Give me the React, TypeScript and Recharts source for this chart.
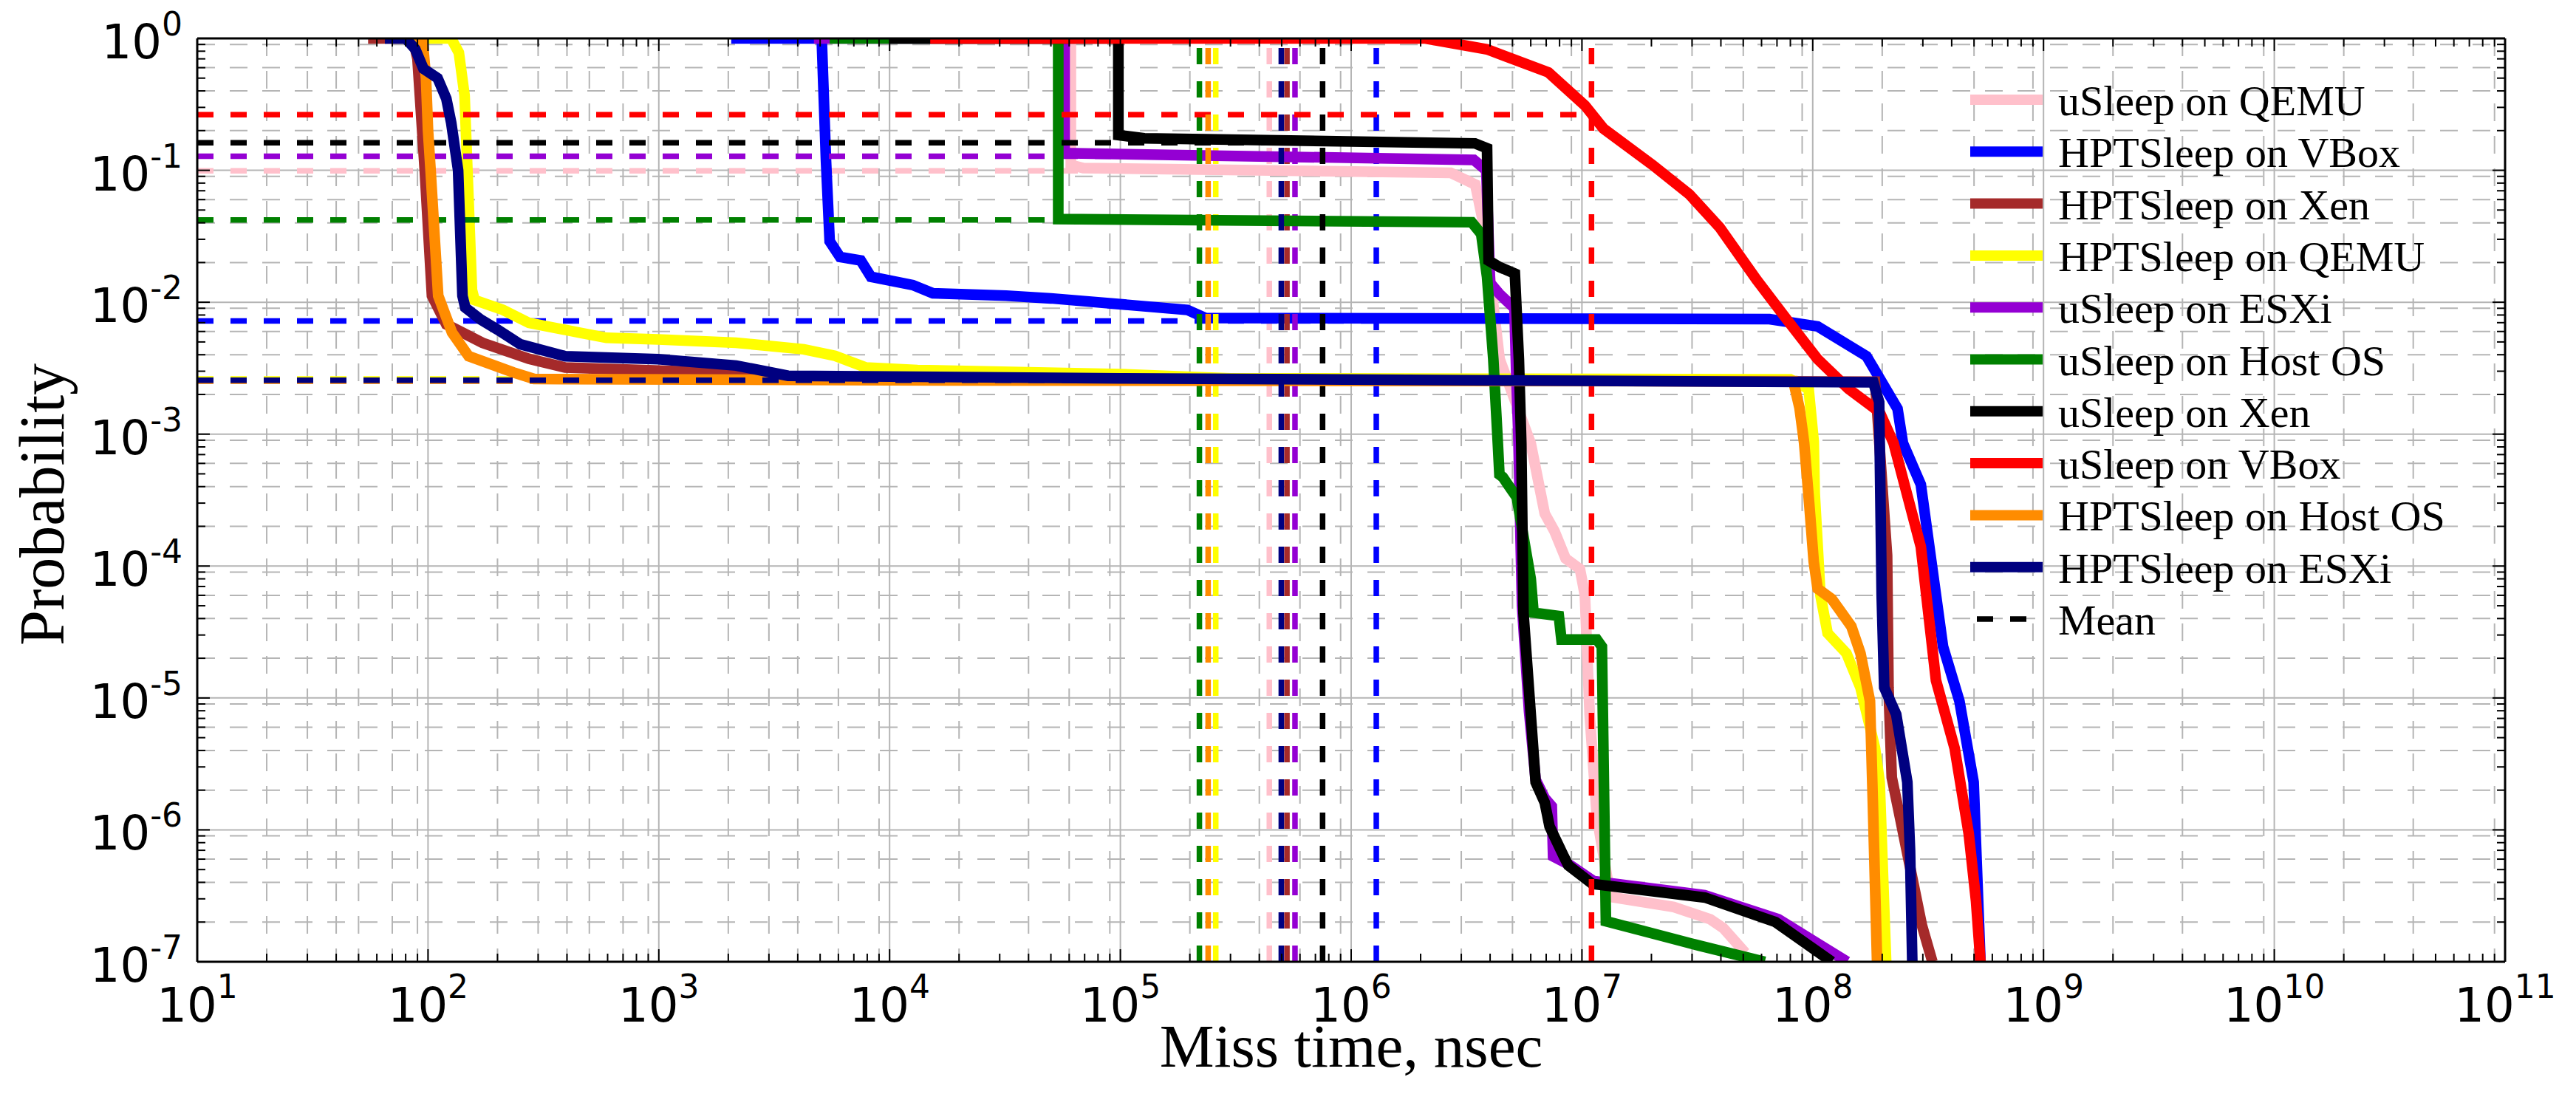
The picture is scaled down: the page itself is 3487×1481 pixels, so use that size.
import React from "react";
import { CartesianGrid, Line, LineChart, XAxis, YAxis } from "recharts";

type Pt = { x: number; y: number };

// Survival curves: miss time (ns) vs probability
const uSleepQemu: Pt[] = [
  { x: 2.0e4, y: 1 }, { x: 6.1e4, y: 1 }, { x: 6.1e4, y: 0.11 }, { x: 6.9e4, y: 0.104 },
  { x: 2.7e6, y: 0.0957 }, { x: 3.45e6, y: 0.078 }, { x: 3.77e6, y: 0.037 }, { x: 4.4e6, y: 3.7e-3 },
  { x: 6.0e6, y: 8.5e-4 }, { x: 6.9e6, y: 2.5e-4 }, { x: 7.6e6, y: 1.84e-4 }, { x: 8.5e6, y: 1.14e-4 },
  { x: 9.8e6, y: 9.5e-5 }, { x: 1.03e7, y: 6.0e-5 }, { x: 1.08e7, y: 7.5e-6 }, { x: 1.16e7, y: 1.27e-6 },
  { x: 1.33e7, y: 3.1e-7 }, { x: 2.5e7, y: 2.6e-7 }, { x: 3.6e7, y: 2.1e-7 }, { x: 4.1e7, y: 1.8e-7 },
  { x: 5.1e7, y: 1.17e-7 },
];
const hptVbox: Pt[] = [
  { x: 2.06e3, y: 1 }, { x: 5.08e3, y: 1 }, { x: 5.3e3, y: 0.12 }, { x: 5.5e3, y: 0.029 },
  { x: 6.1e3, y: 0.022 }, { x: 7.5e3, y: 0.0207 }, { x: 8.3e3, y: 0.0156 }, { x: 1.26e4, y: 0.0135 },
  { x: 1.54e4, y: 0.0117 }, { x: 3.2e4, y: 0.0112 }, { x: 5.0e4, y: 0.0107 }, { x: 1.95e5, y: 8.75e-3 },
  { x: 2.33e5, y: 7.6e-3 }, { x: 6.5e7, y: 7.45e-3 }, { x: 1.05e8, y: 6.56e-3 }, { x: 1.71e8, y: 3.9e-3 },
  { x: 2.33e8, y: 1.56e-3 }, { x: 2.46e8, y: 8.55e-4 }, { x: 2.94e8, y: 4.15e-4 }, { x: 3.67e8, y: 2.45e-5 },
  { x: 4.32e8, y: 9.5e-6 }, { x: 4.98e8, y: 2.3e-6 }, { x: 5.33e8, y: 1e-7 },
];
const hptXen: Pt[] = [
  { x: 55, y: 1 }, { x: 86, y: 1 }, { x: 90, y: 0.7 }, { x: 96.8, y: 0.1 }, { x: 104, y: 0.0112 },
  { x: 120, y: 6.8e-3 }, { x: 172, y: 4.93e-3 }, { x: 274, y: 3.72e-3 }, { x: 393, y: 3.2e-3 },
  { x: 1670, y: 2.94e-3 }, { x: 5000, y: 2.62e-3 }, { x: 1.86e8, y: 2.5e-3 }, { x: 1.88e8, y: 2e-3 },
  { x: 2.1e8, y: 1.2e-4 }, { x: 2.13e8, y: 1.2e-5 }, { x: 2.2e8, y: 2.5e-6 }, { x: 2.35e8, y: 1.43e-6 },
  { x: 2.97e8, y: 1.9e-7 }, { x: 3.3e8, y: 1e-7 },
];
const hptQemu: Pt[] = [
  { x: 90, y: 1 }, { x: 126, y: 1 }, { x: 136, y: 0.78 }, { x: 144, y: 0.37 }, { x: 155, y: 0.0124 },
  { x: 159, y: 0.0104 }, { x: 211, y: 8.75e-3 }, { x: 274, y: 6.97e-3 }, { x: 458, y: 5.86e-3 },
  { x: 593, y: 5.37e-3 }, { x: 993, y: 5.22e-3 }, { x: 2160, y: 4.93e-3 }, { x: 4250, y: 4.4e-3 },
  { x: 5800, y: 3.92e-3 }, { x: 7900, y: 3.2e-3 }, { x: 1.32e4, y: 3.06e-3 }, { x: 1e5, y: 2.85e-3 },
  { x: 3e5, y: 2.65e-3 }, { x: 8e7, y: 2.6e-3 }, { x: 9.6e7, y: 2.2e-3 }, { x: 1.01e8, y: 8.8e-4 },
  { x: 1.02e8, y: 3.55e-4 }, { x: 1.08e8, y: 6.0e-5 }, { x: 1.16e8, y: 3.1e-5 }, { x: 1.4e8, y: 2.18e-5 },
  { x: 1.61e8, y: 1.2e-5 }, { x: 1.86e8, y: 4.2e-6 }, { x: 1.95e8, y: 2.3e-6 }, { x: 2.08e8, y: 1e-7 },
];
const uSleepEsxi: Pt[] = [
  { x: 4.7e3, y: 1 }, { x: 5.73e4, y: 1 }, { x: 5.73e4, y: 0.135 }, { x: 3.4e6, y: 0.12 },
  { x: 3.85e6, y: 0.1 }, { x: 4.0e6, y: 0.014 }, { x: 4.4e6, y: 0.0115 }, { x: 5.1e6, y: 9e-3 },
  { x: 5.2e6, y: 2.6e-3 }, { x: 5.3e6, y: 1e-3 }, { x: 5.5e6, y: 5e-5 }, { x: 5.9e6, y: 7.9e-6 },
  { x: 6.3e6, y: 2.4e-6 }, { x: 6.9e6, y: 1.74e-6 }, { x: 7.4e6, y: 1.51e-6 }, { x: 7.5e6, y: 6.3e-7 },
  { x: 8.9e6, y: 5.4e-7 }, { x: 1.12e7, y: 4.1e-7 }, { x: 3.4e7, y: 3.2e-7 }, { x: 7.1e7, y: 2.1e-7 },
  { x: 1.41e8, y: 1e-7 },
];
const uSleepHost: Pt[] = [
  { x: 5.5e3, y: 1 }, { x: 5.38e4, y: 1 }, { x: 5.38e4, y: 0.0427 }, { x: 3.33e6, y: 0.0404 },
  { x: 3.66e6, y: 0.0329 }, { x: 3.88e6, y: 0.0156 }, { x: 4.13e6, y: 3.7e-3 }, { x: 4.32e6, y: 8.55e-4 },
  { x: 4.39e6, y: 4.93e-4 }, { x: 4.54e6, y: 4.72e-4 }, { x: 5.22e6, y: 3.31e-4 }, { x: 6.0e6, y: 8.0e-5 },
  { x: 6.17e6, y: 4.43e-5 }, { x: 7.94e6, y: 4.18e-5 }, { x: 8.15e6, y: 2.77e-5 }, { x: 1.16e7, y: 2.77e-5 },
  { x: 1.22e7, y: 2.45e-5 }, { x: 1.27e7, y: 2.03e-7 }, { x: 3.2e7, y: 1.33e-7 }, { x: 6.2e7, y: 1e-7 },
];
const uSleepXen: Pt[] = [
  { x: 1e4, y: 1 }, { x: 9.8e4, y: 1 }, { x: 9.8e4, y: 0.185 }, { x: 1.27e5, y: 0.175 },
  { x: 3.44e6, y: 0.16 }, { x: 3.88e6, y: 0.147 }, { x: 3.94e6, y: 0.0207 }, { x: 4.39e6, y: 0.0185 },
  { x: 5.12e6, y: 0.0165 }, { x: 5.33e6, y: 3.7e-3 }, { x: 5.46e6, y: 8.5e-4 }, { x: 5.58e6, y: 4.4e-5 },
  { x: 6.0e6, y: 7.5e-6 }, { x: 6.3e6, y: 2.3e-6 }, { x: 6.9e6, y: 1.61e-6 }, { x: 7.24e6, y: 1.06e-6 },
  { x: 8.36e6, y: 6.25e-7 }, { x: 8.73e6, y: 5.38e-7 }, { x: 1.11e7, y: 3.89e-7 }, { x: 3.41e7, y: 3.07e-7 },
  { x: 6.9e7, y: 2.0e-7 }, { x: 1.21e8, y: 1e-7 },
];
const uSleepVbox: Pt[] = [
  { x: 1.5e4, y: 1 }, { x: 2.1e6, y: 1 }, { x: 3.88e6, y: 0.826 }, { x: 7.16e6, y: 0.552 },
  { x: 1.03e7, y: 0.31 }, { x: 1.24e7, y: 0.207 }, { x: 2.02e7, y: 0.11 }, { x: 2.92e7, y: 0.0658 },
  { x: 3.95e7, y: 0.0369 }, { x: 5.71e7, y: 0.0148 }, { x: 7.74e7, y: 7.36e-3 }, { x: 1.05e8, y: 3.7e-3 },
  { x: 1.43e8, y: 2.2e-3 }, { x: 1.95e8, y: 1.47e-3 }, { x: 2.24e8, y: 8.55e-4 }, { x: 2.94e8, y: 1.4e-4 },
  { x: 3.42e8, y: 1.36e-5 }, { x: 4.12e8, y: 4.16e-6 }, { x: 4.74e8, y: 9.4e-7 }, { x: 5.1e8, y: 2.9e-7 },
  { x: 5.33e8, y: 1e-7 },
];
const hptHost: Pt[] = [
  { x: 85, y: 1 }, { x: 94.6, y: 1 }, { x: 98, y: 0.5 }, { x: 100, y: 0.2 }, { x: 102.6, y: 0.1 },
  { x: 110.7, y: 0.0112 }, { x: 127, y: 5.9e-3 }, { x: 150, y: 3.9e-3 }, { x: 234, y: 2.94e-3 },
  { x: 288, y: 2.62e-3 }, { x: 1e4, y: 2.56e-3 }, { x: 8.24e7, y: 2.52e-3 }, { x: 8.77e7, y: 1.57e-3 },
  { x: 9.18e7, y: 8.55e-4 }, { x: 9.66e7, y: 2.94e-4 }, { x: 1.01e8, y: 1.08e-4 }, { x: 1.05e8, y: 6.74e-5 },
  { x: 1.21e8, y: 5.62e-5 }, { x: 1.47e8, y: 3.49e-5 }, { x: 1.61e8, y: 2.18e-5 }, { x: 1.77e8, y: 9.5e-6 },
  { x: 1.82e8, y: 1.71e-6 }, { x: 1.9e8, y: 1e-7 },
];
const hptEsxi: Pt[] = [
  { x: 65, y: 1 }, { x: 80, y: 1 }, { x: 88, y: 0.83 }, { x: 95.5, y: 0.59 }, { x: 110, y: 0.5 },
  { x: 120, y: 0.35 }, { x: 126, y: 0.23 }, { x: 135, y: 0.1 }, { x: 141, y: 0.0112 }, { x: 145, y: 9.1e-3 },
  { x: 169, y: 7.4e-3 }, { x: 200, y: 6.2e-3 }, { x: 251, y: 4.8e-3 }, { x: 393, y: 3.9e-3 },
  { x: 993, y: 3.7e-3 }, { x: 2163, y: 3.31e-3 }, { x: 3630, y: 2.77e-3 }, { x: 1e5, y: 2.65e-3 },
  { x: 1.83e8, y: 2.47e-3 }, { x: 1.94e8, y: 1.75e-3 }, { x: 1.95e8, y: 8.5e-4 }, { x: 1.99e8, y: 6.0e-5 },
  { x: 2.04e8, y: 1.2e-5 }, { x: 2.3e8, y: 7.5e-6 }, { x: 2.57e8, y: 2.3e-6 }, { x: 2.64e8, y: 7.0e-7 },
  { x: 2.7e8, y: 1e-7 },
];

const seriesNames = [
  "uSleep on QEMU", "HPTSleep on VBox", "HPTSleep on Xen", "HPTSleep on QEMU", "uSleep on ESXi",
  "uSleep on Host OS", "uSleep on Xen", "uSleep on VBox", "HPTSleep on Host OS", "HPTSleep on ESXi",
];
const seriesColors = [
  "#ffc0cb", "#0000ff", "#a52a2a", "#ffff00", "#9400d3",
  "#008000", "#000000", "#ff0000", "#ff8c00", "#000080",
];
const seriesData = [
  uSleepQemu, hptVbox, hptXen, hptQemu, uSleepEsxi,
  uSleepHost, uSleepXen, uSleepVbox, hptHost, hptEsxi,
];
// mean miss time and the probability at that mean, per series
const meanTimes = [4.42e5, 1.285e6, 5.27e5, 2.59e5, 5.71e5, 2.2e5, 7.52e5, 1.1e7, 2.4e5, 4.98e5];
const meanProbs = [0.099, 7.2e-3, 2.54e-3, 2.62e-3, 0.128, 0.042, 0.162, 0.264, 2.52e-3, 2.56e-3];

const xExponents = [1, 2, 3, 4, 5, 6, 7, 8, 9, 10, 11];
const yExponents = [-7, -6, -5, -4, -3, -2, -1, 0];
const minorSteps = [2, 3, 4, 5, 6, 7, 8, 9];

const majorX = xExponents.map((e) => 10 ** e);
const minorX = xExponents.slice(0, -1).flatMap((e) => minorSteps.map((k) => k * 10 ** e));
const majorY = yExponents.map((e) => 10 ** e);
const minorY = yExponents.slice(0, -1).flatMap((e) => minorSteps.map((k) => k * 10 ** e));
const allX = [...majorX, ...minorX].sort((a, b) => a - b);
const allY = [...majorY, ...minorY].sort((a, b) => a - b);

const X_DOMAIN: [number, number] = [10, 1e11];
const Y_DOMAIN: [number, number] = [1e-7, 1];

const W = 3471;
const H = 1465;
const SANS = "DejaVu Sans";
const SERIF = "Liberation Serif";

function isMajor(v: number) {
  const e = Math.round(Math.log10(v));
  return Math.abs(v - 10 ** e) < v * 1e-6;
}

function BottomTick({ x, y, payload }: any) {
  const v = payload.value;
  const major = isMajor(v);
  return (
    <g>
      <line x1={x} x2={x} y1={y} y2={y - (major ? 17 : 11)} stroke="#000" strokeWidth={2} />
      {major ? (
        <text x={x} y={y + 81} textAnchor="middle" fontFamily={SANS} fontSize={64} fill="#000">
          10
          <tspan dy={-32} fontSize={44}>{Math.round(Math.log10(v))}</tspan>
        </text>
      ) : null}
    </g>
  );
}

function LeftTick({ x, y, payload }: any) {
  const v = payload.value;
  const major = isMajor(v);
  return (
    <g>
      <line x1={x} x2={x + (major ? 17 : 11)} y1={y} y2={y} stroke="#000" strokeWidth={2} />
      {major ? (
        <text x={x - 20} y={y + 27} textAnchor="end" fontFamily={SANS} fontSize={64} fill="#000">
          10
          <tspan dy={-31} fontSize={44}>{Math.round(Math.log10(v))}</tspan>
        </text>
      ) : null}
    </g>
  );
}

function TopTick({ x, y, payload }: any) {
  const len = isMajor(payload.value) ? 17 : 11;
  return <line x1={x} x2={x} y1={y} y2={y + len} stroke="#000" strokeWidth={2} />;
}

function RightTick({ x, y, payload }: any) {
  const len = isMajor(payload.value) ? 17 : 11;
  return <line x1={x} x2={x - len} y1={y} y2={y} stroke="#000" strokeWidth={2} />;
}

const frame = { stroke: "#000", strokeWidth: 3 };
const CURVE_W = 14.5;
const MEAN_W = 7.5;

export default function App() {
  return (
    <div style={{ position: "relative", width: W, height: H }}>
      <LineChart width={W} height={H} margin={{ top: 24, right: 68, bottom: 0, left: 0 }}>
        <XAxis
          dataKey="x" type="number" scale="log" domain={X_DOMAIN} allowDataOverflow
          ticks={allX} interval={0} tickSize={0} tickMargin={0} tickLine={false}
          axisLine={frame} tick={<BottomTick />} height={171}
        />
        <XAxis
          xAxisId="top" orientation="top" dataKey="x" type="number" scale="log" domain={X_DOMAIN}
          allowDataOverflow ticks={allX} interval={0} tickSize={0} tickMargin={0} tickLine={false}
          axisLine={frame} tick={<TopTick />} height={20}
        />
        <XAxis xAxisId="gmaj" dataKey="x" type="number" scale="log" domain={X_DOMAIN} allowDataOverflow ticks={majorX} hide />
        <XAxis xAxisId="gmin" dataKey="x" type="number" scale="log" domain={X_DOMAIN} allowDataOverflow ticks={minorX} hide />
        <YAxis
          type="number" scale="log" domain={Y_DOMAIN} allowDataOverflow
          ticks={allY} interval={0} tickSize={0} tickMargin={0} tickLine={false}
          axisLine={frame} tick={<LeftTick />} width={259}
        />
        <YAxis
          yAxisId="right" orientation="right" type="number" scale="log" domain={Y_DOMAIN} allowDataOverflow
          ticks={allY} interval={0} tickSize={0} tickMargin={0} tickLine={false}
          axisLine={frame} tick={<RightTick />} width={20}
        />
        <YAxis yAxisId="gmaj" type="number" scale="log" domain={Y_DOMAIN} allowDataOverflow ticks={majorY} hide />
        <YAxis yAxisId="gmin" type="number" scale="log" domain={Y_DOMAIN} allowDataOverflow ticks={minorY} hide />

        <CartesianGrid xAxisId="gmin" yAxisId="gmin" stroke="#b5b5b5" strokeWidth={2} strokeDasharray="24 20" />
        <CartesianGrid xAxisId="gmaj" yAxisId="gmaj" stroke="#b5b5b5" strokeWidth={2} />

        {seriesData.flatMap((pts, i) => [
          <Line
            key={`curve-${i}`} data={pts} dataKey="y" stroke={seriesColors[i]} strokeWidth={CURVE_W}
            dot={false} activeDot={false} isAnimationActive={false} type="linear"
          />,
          <Line
            key={`vmean-${i}`}
            data={[{ x: meanTimes[i], y: Y_DOMAIN[0] }, { x: meanTimes[i], y: Y_DOMAIN[1] }]}
            dataKey="y" stroke={seriesColors[i]} strokeWidth={MEAN_W} strokeDasharray="22 23"
            dot={false} activeDot={false} isAnimationActive={false} type="linear"
          />,
          <Line
            key={`hmean-${i}`}
            data={[{ x: X_DOMAIN[0], y: meanProbs[i] }, { x: meanTimes[i], y: meanProbs[i] }]}
            dataKey="y" stroke={seriesColors[i]} strokeWidth={MEAN_W} strokeDasharray="22 23"
            dot={false} activeDot={false} isAnimationActive={false} type="linear"
          />,
        ])}
      </LineChart>

      <svg
        width={W} height={H}
        style={{ position: "absolute", left: 0, top: 0, pointerEvents: "none" }}
      >
        <text
          x={78} y={675} transform="rotate(-90 78 675)" textAnchor="middle"
          fontFamily={SERIF} fontSize={86} fill="#000"
        >
          Probability
        </text>
        <text x={1821} y={1436} textAnchor="middle" fontFamily={SERIF} fontSize={83} fill="#000">
          Miss time, nsec
        </text>

        {seriesNames.map((name, i) => {
          const cy = 127 + i * 70.3;
          return (
            <g key={name}>
              <line x1={2659} x2={2757} y1={cy} y2={cy} stroke={seriesColors[i]} strokeWidth={14} />
              <text x={2778} y={cy + 21} fontFamily={SERIF} fontSize={58} fill="#000">{name}</text>
            </g>
          );
        })}
        <g>
          <line
            x1={2668} x2={2736} y1={127 + 10 * 70.3} y2={127 + 10 * 70.3}
            stroke="#000" strokeWidth={MEAN_W} strokeDasharray="22 23"
          />
          <text x={2778} y={127 + 10 * 70.3 + 21} fontFamily={SERIF} fontSize={58} fill="#000">Mean</text>
        </g>
      </svg>
    </div>
  );
}
